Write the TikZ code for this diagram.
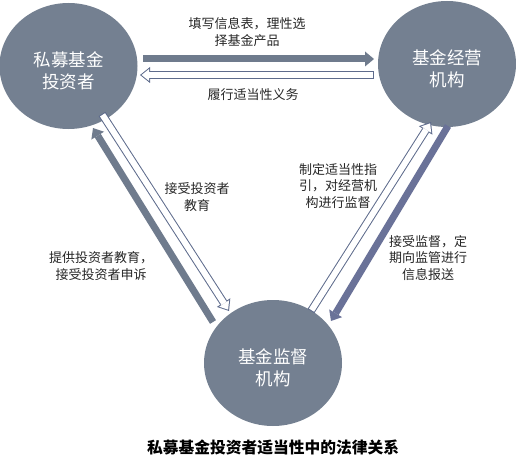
\documentclass[tikz,border=0pt]{standalone}
\usepackage{fontspec}
\setmainfont{Noto Sans CJK SC}
\usepackage{tikz}
\usetikzlibrary{shapes.geometric, arrows.meta, positioning}
\definecolor{nodegray}{HTML}{748091}
\definecolor{arrowgray}{HTML}{6F7B8D}
\definecolor{arrowblue}{HTML}{6A7298}
\definecolor{edgeblue}{HTML}{5E6B8C}
\newcommand{\topstrut}{\rule{0pt}{25pt}}
\tikzstyle{party} = [ellipse, minimum width=138pt, minimum height=126pt, inner sep=0pt, fill=nodegray, text=white, align=center, font=\fontsize{17.5}{22}\selectfont]
\tikzstyle{note} = [align=center, text=black!85, font=\fontsize{13}{16.5}\selectfont]
\tikzstyle{fullarrow} = [line width=7pt, draw=arrowgray, -{Triangle[length=9pt, width=15pt, line width=0pt]}]
\tikzstyle{hollowarrow} = [line width=8pt, draw=edgeblue, -{Triangle[length=10pt, width=16pt, line width=0pt]}, postaction={draw=white, line width=6pt, shorten <=1pt, shorten >=1.6pt, -{Triangle[length=7.4pt, width=11.8pt, line width=0pt]}}]

\begin{document}
\begin{tikzpicture}[x=1pt, y=-1pt]
\useasboundingbox (0,0) rectangle (516,468);

% Nodes
\node (investor) [party] at (68.5,66) {\topstrut 私募基金\\投资者};
\node (manager) [party] at (447,64) {\topstrut 基金经营\\机构};
\node (regulator) [party] at (273,363) {\topstrut 基金监督\\机构};
\node (caption) [below=10pt of regulator, font=\bfseries\fontsize{15.75}{18}\selectfont] {私募基金投资者适当性中的法律关系};

% Labels
\node (choose) [note] at (247,32) {填写信息表，理性选\\择基金产品};
\node (duty) [note] at (253,95) {履行适当性义务};
\node (educated) [note] at (197,197) {接受投资者\\教育};
\node (educate) [note] at (101,266) {提供投资者教育，\\接受投资者申诉};
\node (guide) [note] at (338,186) {制定适当性指\\引，对经营机\\构进行监督};
\node (report) [note] at (428,258) {接受监督，定\\期向监管进行\\信息报送};

% Arrow ends
\coordinate (inv-out) at (143,59);
\coordinate (man-in) at (374,59);
\coordinate (man-out) at (374,75);
\coordinate (inv-in) at (140,75);
\coordinate (inv-down) at (102,114);
\coordinate (reg-in) at (229,311);
\coordinate (reg-out) at (213,322);
\coordinate (inv-up) at (93,128);
\coordinate (reg-up) at (311,311);
\coordinate (man-top) at (431,122);
\coordinate (man-down) at (448,126);
\coordinate (reg-top) at (331,321);

% Arrows
\draw [fullarrow] (inv-out) -- (man-in);
\draw [hollowarrow] (man-out) -- (inv-in);
\draw [hollowarrow] (inv-down) -- (reg-in);
\draw [fullarrow] (reg-out) -- (inv-up);
\draw [hollowarrow] (reg-up) -- (man-top);
\draw [fullarrow, draw=arrowblue] (man-down) -- (reg-top);

\end{tikzpicture}
\end{document}
